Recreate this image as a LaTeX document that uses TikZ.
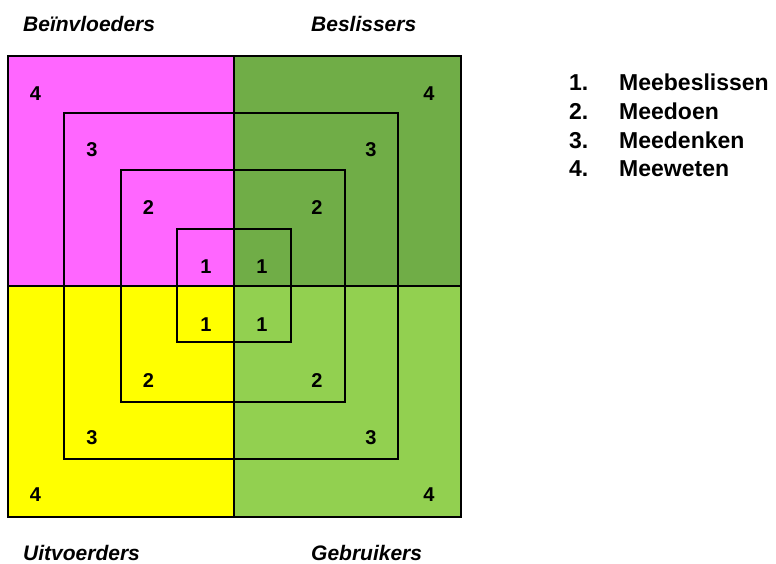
\documentclass[tikz,border=0pt]{standalone}
\usepackage{fontspec}
\setmainfont{Liberation Sans}
\definecolor{magentaq}{HTML}{FF66FF}
\definecolor{darkgreenq}{HTML}{70AD47}
\definecolor{yellowq}{HTML}{FFFF00}
\definecolor{lightgreenq}{HTML}{92D050}
\tikzset{
  frame/.style={draw=black, line width=1.5pt},
  lvl/.style={anchor=base, inner sep=0pt, font=\fontsize{20}{24}\selectfont\bfseries},
  role/.style={anchor=base west, inner sep=0pt, font=\fontsize{21}{25}\selectfont\bfseries\itshape},
  legend/.style={anchor=base west, inner sep=0pt, font=\fontsize{23}{27}\selectfont\bfseries},
}
\begin{document}
\begin{tikzpicture}[x=1pt, y=-1pt]
\useasboundingbox (0,0) rectangle (776,563);
% quadrant fills
\fill[magentaq]    (8,56)   rectangle (234,286);
\fill[darkgreenq]  (234,56) rectangle (461,286);
\fill[yellowq]     (8,286)  rectangle (234,517);
\fill[lightgreenq] (234,286) rectangle (461,517);
% outer frame and the two dividing lines
\draw[frame] (8,56) rectangle (461,517);
\draw[frame] (234,56) -- (234,517);
\draw[frame] (8,286) -- (461,286);
% nested squares for levels 3, 2 and 1
\draw[frame] (64,113)  rectangle (398,459);
\draw[frame] (121,170) rectangle (345,402);
\draw[frame] (177,229) rectangle (291,342);
% level numbers, upper half
\node[lvl] (ul4) at (35.5,100.5) {4};
\node[lvl] (ur4) at (429,100.5) {4};
\node[lvl] (ul3) at (92,156.5) {3};
\node[lvl] (ur3) at (371,156.5) {3};
\node[lvl] (ul2) at (148.5,214.5) {2};
\node[lvl] (ur2) at (317,214.5) {2};
\node[lvl] (ul1) at (206,273.5) {1};
\node[lvl] (ur1) at (262,273.5) {1};
% level numbers, lower half
\node[lvl] (ll1) at (206,331.5) {1};
\node[lvl] (lr1) at (262,331.5) {1};
\node[lvl] (ll2) at (148.5,387.5) {2};
\node[lvl] (lr2) at (317,387.5) {2};
\node[lvl] (ll3) at (92,444.5) {3};
\node[lvl] (lr3) at (371,444.5) {3};
\node[lvl] (ll4) at (35.5,501.5) {4};
\node[lvl] (lr4) at (429,501.5) {4};
% role labels
\node[role] (rolea) at (23,31.5)  {Beïnvloeders};
\node[role] (roleb) at (311,31.5) {Beslissers};
\node[role] (rolec) at (23,560)   {Uitvoerders};
\node[role] (roled) at (311,560)  {Gebruikers};
% legend
\node[legend] (n1) at (569,90)    {1.};
\node[legend] (t1) at (619,90)    {Meebeslissen};
\node[legend] (n2) at (569,119)   {2.};
\node[legend] (t2) at (619,119)   {Meedoen};
\node[legend] (n3) at (569,148)   {3.};
\node[legend] (t3) at (619,148)   {Meedenken};
\node[legend] (n4) at (569,176.5) {4.};
\node[legend] (t4) at (619,176.5) {Meeweten};
\end{tikzpicture}
\end{document}
